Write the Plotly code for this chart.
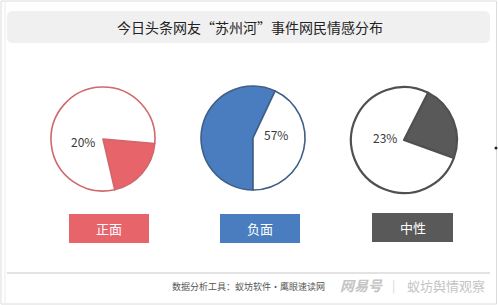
import plotly.graph_objects as go

W, H = 498, 305

title = "今日头条网友“苏州河”事件网民情感分布"
categories = ["正面", "负面", "中性"]
shares = [20, 57, 23]
colors = ["#e7646b", "#4a7dbf", "#595959"]
edge_colors = ["#d0686e", "#3f5f85", "#505050"]
edge_widths = [1.6, 1.6, 2.2]
rotations = [95, 180, 27]
source_text = "数据分析工具：蚁坊软件·鹰眼速读网"

# layout geometry in pixels (center x, center y, radius)
pie_geo = [(103, 139, 52), (253, 138, 52), (404, 140, 53)]
pct_pos = [(83, 141), (276, 134), (385, 138)]
box_geo = [(69, 214, 149, 243), (220, 214, 300, 243), (372, 213, 453, 242)]

FONT = "Noto Sans CJK SC"


def px(x):
    return x / W


def py(y):
    return 1 - y / H


def label(x, y, text, size, color):
    return dict(x=px(x), y=py(y), xref="paper", yref="paper", text=text,
                showarrow=False, xanchor="center", yanchor="middle",
                font=dict(family=FONT, size=size, color=color))


fig = go.Figure()
annotations = []
shapes = []

for i, cat in enumerate(categories):
    cx, cy, r = pie_geo[i]
    fig.add_trace(go.Pie(
        values=[shares[i], 100 - shares[i]],
        labels=[cat, "其他"],
        marker=dict(colors=[colors[i], "#ffffff"],
                    line=dict(color=edge_colors[i], width=edge_widths[i])),
        sort=False,
        direction="clockwise",
        rotation=rotations[i],
        textinfo="none",
        hoverinfo="label+percent",
        showlegend=False,
        domain=dict(x=[px(cx - r), px(cx + r)], y=[py(cy + r), py(cy - r)]),
    ))
    tx, ty = pct_pos[i]
    annotations.append(label(tx, ty, f"{shares[i]}%", 12, "#3a3a3a"))
    x0, y0, x1, y1 = box_geo[i]
    shapes.append(dict(type="rect", xref="paper", yref="paper",
                       x0=px(x0), x1=px(x1), y0=py(y1), y1=py(y0),
                       fillcolor=colors[i], line=dict(width=0), layer="below"))
    annotations.append(label((x0 + x1) / 2, (y0 + y1) / 2, cat, 13, "#ffffff"))

# outer frame
shapes.append(dict(type="rect", xref="paper", yref="paper",
                   x0=px(1), x1=px(496.5), y0=py(304), y1=py(1),
                   line=dict(color="#dcdcdc", width=1), fillcolor="rgba(0,0,0,0)", layer="below"))
shapes.append(dict(type="line", xref="paper", yref="paper",
                   x0=px(5), x1=px(5), y0=py(304), y1=py(1),
                   line=dict(color="#ececec", width=1), layer="below"))
# title box (rounded)
tx0, ty0, tx1, ty1, rr = 7, 11, 490, 43, 6
path = (f"M {tx0 + rr},{ty0} L {tx1 - rr},{ty0} Q {tx1},{ty0} {tx1},{ty0 + rr} "
        f"L {tx1},{ty1 - rr} Q {tx1},{ty1} {tx1 - rr},{ty1} L {tx0 + rr},{ty1} "
        f"Q {tx0},{ty1} {tx0},{ty1 - rr} L {tx0},{ty0 + rr} Q {tx0},{ty0} {tx0 + rr},{ty0} Z")
shapes.append(dict(type="path", xref="x", yref="y", path=path,
                   fillcolor="#f0f0f0", line=dict(width=0), layer="below"))
# footer line
shapes.append(dict(type="line", xref="paper", yref="paper",
                   x0=px(7), x1=px(490), y0=py(273), y1=py(273),
                   line=dict(color="#c8c8c8", width=1.2)))
# small dot at right edge
shapes.append(dict(type="circle", xref="paper", yref="paper",
                   x0=px(494.5), x1=px(497.5), y0=py(149.5), y1=py(146.5),
                   fillcolor="#222222", line=dict(width=0)))

annotations.append(label(250, 27, title, 14, "#222222"))
annotations.append(label(248, 286, source_text, 9, "#555555"))
annotations.append(label(361, 285, "<i><b>网易号</b></i>", 14, "#c4c4c4"))
annotations.append(label(393, 285, "|", 12, "#d4d4d4"))
annotations.append(label(446, 285, "蚁坊舆情观察", 13, "#c4c4c4"))

fig.update_layout(
    width=W, height=H,
    margin=dict(l=0, r=0, t=0, b=0),
    paper_bgcolor="#ffffff",
    plot_bgcolor="rgba(0,0,0,0)",
    xaxis=dict(range=[0, W], visible=False, fixedrange=True, domain=[0, 1]),
    yaxis=dict(range=[H, 0], visible=False, fixedrange=True, domain=[0, 1]),
    shapes=shapes,
    annotations=annotations,
)

fig.write_html("out.html")
